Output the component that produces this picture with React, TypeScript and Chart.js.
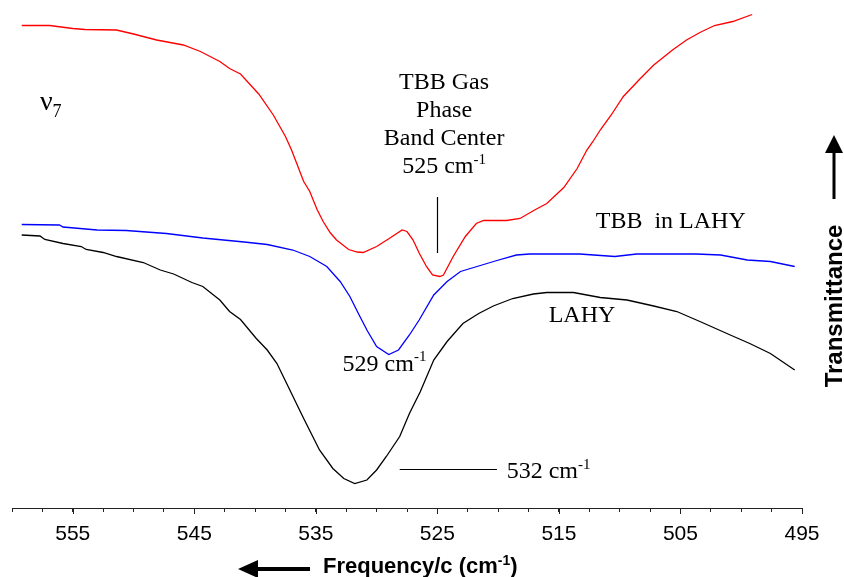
import React, { useEffect, useRef } from "react";
import { Chart, registerables } from "chart.js";

Chart.register(...registerables);

// ---- Data (frequency in cm-1, transmittance in arbitrary offset units) ----
const redFreq = [559.2, 556.9, 555.0, 554.0, 551.4, 550.0, 548.1, 545.9, 544.5, 542.9, 542.1, 541.2, 539.7, 538.5, 537.5, 537.0, 536.0, 535.5, 534.9, 534.4, 533.8, 533.3, 532.3, 531.6, 531.1, 530.0, 528.9, 527.9, 527.5, 527.0, 526.5, 525.9, 525.4, 524.8, 524.5, 523.7, 522.7, 521.8, 521.2, 519.3, 518.2, 517.0, 516.0, 514.6, 513.5, 512.7, 512.2, 511.6, 510.7, 509.7, 508.3, 507.2, 505.6, 504.5, 503.4, 502.2, 500.7, 499.1];
const redT = [96.5, 96.5, 95.9, 95.7, 95.6, 94.8, 93.6, 92.6, 91.3, 89.3, 87.9, 86.8, 82.8, 78.6, 74.3, 71.6, 65.3, 63.3, 59.7, 57.3, 55.0, 53.6, 51.7, 51.2, 51.1, 52.3, 54.0, 55.6, 55.3, 53.6, 51.0, 48.3, 46.6, 46.3, 46.6, 50.3, 54.3, 56.9, 57.5, 57.5, 57.9, 59.6, 60.9, 64.1, 67.9, 71.6, 73.3, 75.6, 78.6, 82.3, 85.9, 88.6, 91.7, 93.6, 95.1, 96.5, 97.3, 98.7];

const blueFreq = [559.2, 556.1, 555.8, 553.0, 550.6, 547.3, 544.3, 540.9, 539.0, 536.9, 535.5, 534.1, 533.0, 532.2, 531.5, 530.8, 530.0, 529.0, 528.2, 527.3, 526.5, 525.3, 524.2, 523.1, 521.6, 520.1, 518.5, 517.4, 515.3, 513.3, 510.4, 508.6, 503.7, 501.7, 499.5, 497.6, 495.6];
const blueT = [56.7, 56.6, 56.2, 55.6, 55.5, 54.9, 54.0, 53.2, 52.7, 51.6, 50.3, 48.3, 45.3, 42.3, 38.9, 35.6, 32.3, 30.7, 31.6, 34.6, 37.6, 42.6, 45.3, 47.3, 48.4, 49.5, 50.6, 50.8, 50.8, 50.8, 50.3, 50.8, 50.8, 50.6, 49.6, 49.3, 48.3];

const blackFreq = [559.2, 557.7, 557.3, 555.8, 554.3, 553.9, 552.5, 551.4, 549.2, 547.8, 546.7, 545.2, 544.3, 542.9, 542.1, 541.2, 539.9, 539.0, 538.2, 537.0, 536.0, 534.7, 533.6, 532.7, 531.8, 530.8, 530.0, 529.2, 528.1, 527.3, 526.4, 525.3, 524.2, 522.9, 521.6, 520.4, 518.8, 517.1, 516.0, 513.8, 511.6, 509.4, 507.2, 505.3, 503.4, 500.9, 499.3, 497.6, 495.6];
const blackT = [54.6, 54.4, 53.7, 52.9, 52.3, 51.7, 51.1, 50.3, 49.1, 47.6, 46.8, 45.1, 44.3, 41.6, 39.3, 37.7, 33.9, 31.6, 28.9, 22.9, 17.9, 11.6, 7.9, 5.9, 4.9, 5.6, 7.6, 10.3, 14.3, 18.9, 23.3, 29.6, 33.3, 36.9, 38.9, 40.4, 41.9, 42.8, 43.1, 43.1, 42.1, 41.6, 40.4, 39.3, 37.3, 34.6, 32.9, 30.9, 27.6];

const majorTicks = [555, 545, 535, 525, 515, 505, 495];
const minorStep = 2.5;
const xMin = 495;
const xMax = 560;

const seriesNames = ["TBB Gas Phase", "TBB in LAHY", "LAHY"];
const xTitleText = "Frequency/c (cm";
const yTitleText = "Transmittance";

const SERIF = "'Liberation Serif', 'Times New Roman', serif";
const SANS = "'Liberation Sans', Arial, sans-serif";

function toPts(xs: number[], ys: number[]) {
  return xs.map((x, i) => ({ x, y: ys[i] }));
}

function drawSupText(
  ctx: CanvasRenderingContext2D,
  x: number,
  y: number,
  base: string,
  sup: string,
  after: string,
  size: number,
  supSize: number,
  family: string,
  weight: string,
  align: "left" | "center"
) {
  ctx.textBaseline = "alphabetic";
  ctx.textAlign = "left";
  const bf = `${weight} ${size}px ${family}`;
  const sf = `${weight} ${supSize}px ${family}`;
  ctx.font = bf;
  const w1 = ctx.measureText(base).width;
  const w3 = after ? ctx.measureText(after).width : 0;
  ctx.font = sf;
  const w2 = ctx.measureText(sup).width;
  const total = w1 + w2 + w3;
  const sx = align === "center" ? x - total / 2 : x;
  ctx.font = bf;
  ctx.fillText(base, sx, y);
  ctx.font = sf;
  ctx.fillText(sup, sx + w1, y - size * 0.38);
  if (after) {
    ctx.font = bf;
    ctx.fillText(after, sx + w1 + w2, y);
  }
}

const annotPlugin = {
  id: "annot",
  afterDraw(chart: any) {
    const { ctx, chartArea } = chart;
    const xs = chart.scales.x;
    const ys = chart.scales.y;
    const X = (v: number) => xs.getPixelForValue(v);
    const Y = (v: number) => ys.getPixelForValue(v);
    ctx.save();
    ctx.fillStyle = "#000";

    // longer major tick marks
    ctx.strokeStyle = "#222";
    ctx.lineWidth = 1;
    for (const t of majorTicks) {
      const px = Math.round(X(t)) + 0.5;
      ctx.beginPath();
      ctx.moveTo(px, chartArea.bottom);
      ctx.lineTo(px, chartArea.bottom + 6);
      ctx.stroke();
    }

    ctx.strokeStyle = "#000";
    // nu_7
    ctx.textBaseline = "alphabetic";
    ctx.textAlign = "left";
    ctx.font = `28px ${SERIF}`;
    const nx = X(557.7);
    ctx.fillText("\u03BD", nx, Y(79.6));
    const nw = ctx.measureText("\u03BD").width;
    ctx.font = `18px ${SERIF}`;
    ctx.fillText("7", nx + nw, Y(78.2));

    // Gas phase label
    ctx.textAlign = "center";
    ctx.font = `24px ${SERIF}`;
    const gx = X(524.45);
    const gy = Y(83.8);
    ctx.fillText("TBB Gas", gx, gy);
    ctx.fillText("Phase", gx, gy + 28);
    ctx.fillText("Band Center", gx, gy + 56);
    drawSupText(ctx, gx, gy + 84, "525 cm", "-1", "", 24, 15, SERIF, "normal", "center");

    // vertical marker line at 525
    ctx.lineWidth = 1.2;
    ctx.beginPath();
    ctx.moveTo(Math.round(X(525)) + 0.5, Y(62.2));
    ctx.lineTo(Math.round(X(525)) + 0.5, Y(51.0));
    ctx.stroke();

    // TBB in LAHY
    ctx.textAlign = "center";
    ctx.font = `24px ${SERIF}`;
    ctx.fillText("TBB  in LAHY", X(505.8), Y(56.0));
    // LAHY
    ctx.fillText("LAHY", X(513.1), Y(37.3));

    // 529 cm-1
    drawSupText(ctx, X(532.8), Y(27.5), "529 cm", "-1", "", 24, 15, SERIF, "normal", "left");

    // 532 line and label
    ctx.lineWidth = 1.2;
    ctx.beginPath();
    ctx.moveTo(X(528.1), Math.round(Y(7.9)) + 0.5);
    ctx.lineTo(X(520.1), Math.round(Y(7.9)) + 0.5);
    ctx.stroke();
    drawSupText(ctx, X(519.3), Y(6.0), "532 cm", "-1", "", 24, 15, SERIF, "normal", "left");

    // X-axis title with left arrow
    const ty = chartArea.bottom + 65;
    ctx.lineWidth = 4;
    ctx.beginPath();
    ctx.moveTo(255, ty - 4);
    ctx.lineTo(310, ty - 4);
    ctx.stroke();
    ctx.beginPath();
    ctx.moveTo(238, ty - 4);
    ctx.lineTo(258, ty - 13);
    ctx.lineTo(258, ty + 5);
    ctx.closePath();
    ctx.fill();
    drawSupText(ctx, 323, ty, xTitleText, "-1", ")", 22, 14, SANS, "bold", "left");

    // Y-axis title with up arrow
    const cx = 834;
    ctx.lineWidth = 3;
    ctx.beginPath();
    ctx.moveTo(cx, 199);
    ctx.lineTo(cx, 150);
    ctx.stroke();
    ctx.beginPath();
    ctx.moveTo(cx, 135);
    ctx.lineTo(cx - 9, 153);
    ctx.lineTo(cx + 9, 153);
    ctx.closePath();
    ctx.fill();
    ctx.save();
    ctx.translate(cx + 8, 306);
    ctx.rotate(-Math.PI / 2);
    ctx.textAlign = "center";
    ctx.textBaseline = "alphabetic";
    ctx.font = `bold 24px ${SANS}`;
    ctx.fillText(yTitleText, 0, 0);
    ctx.restore();

    ctx.restore();
  },
};

export default function App() {
  const ref = useRef<HTMLCanvasElement | null>(null);
  useEffect(() => {
    if (!ref.current) return;
    const chart = new Chart(ref.current, {
      type: "line",
      data: {
        datasets: [
          { label: seriesNames[0], data: toPts(redFreq, redT), borderColor: "#ff0000", borderWidth: 1.3, pointRadius: 0, tension: 0, fill: false },
          { label: seriesNames[1], data: toPts(blueFreq, blueT), borderColor: "#0000ff", borderWidth: 1.3, pointRadius: 0, tension: 0, fill: false },
          { label: seriesNames[2], data: toPts(blackFreq, blackT), borderColor: "#000000", borderWidth: 1.3, pointRadius: 0, tension: 0, fill: false },
        ],
      },
      options: {
        responsive: false,
        animation: false,
        devicePixelRatio: 1,
        layout: { padding: { left: 12, right: 42, top: 8, bottom: 0 } },
        plugins: { legend: { display: false }, tooltip: { enabled: false }, title: { display: false } },
        scales: {
          x: {
            type: "linear",
            min: xMin,
            max: xMax,
            reverse: true,
            afterFit: (scale: any) => { scale.height = 69; },
            afterBuildTicks: (scale: any) => {
              const t = [];
              for (let v = xMax; v >= xMin - 1e-6; v -= minorStep) t.push({ value: v });
              scale.ticks = t;
            },
            ticks: {
              autoSkip: false,
              maxRotation: 0,
              padding: 10,
              color: "#000",
              font: { family: SANS, size: 21 },
              callback: (v: any) => (majorTicks.includes(Number(v)) ? String(v) : ""),
            },
            grid: { display: true, drawOnChartArea: false, drawTicks: true, tickLength: 4, color: "#222", lineWidth: 1 },
            border: { display: true, color: "#222", width: 1 },
          },
          y: { type: "linear", min: 0, max: 100, display: false },
        },
      },
      plugins: [annotPlugin],
    } as any);
    return () => chart.destroy();
  }, []);
  return (
    <div style={{ position: "absolute", left: 0, top: 0, width: 844, height: 577, background: "#fff" }}>
      <canvas ref={ref} width={844} height={577} style={{ width: 844, height: 577, display: "block" }} />
    </div>
  );
}
